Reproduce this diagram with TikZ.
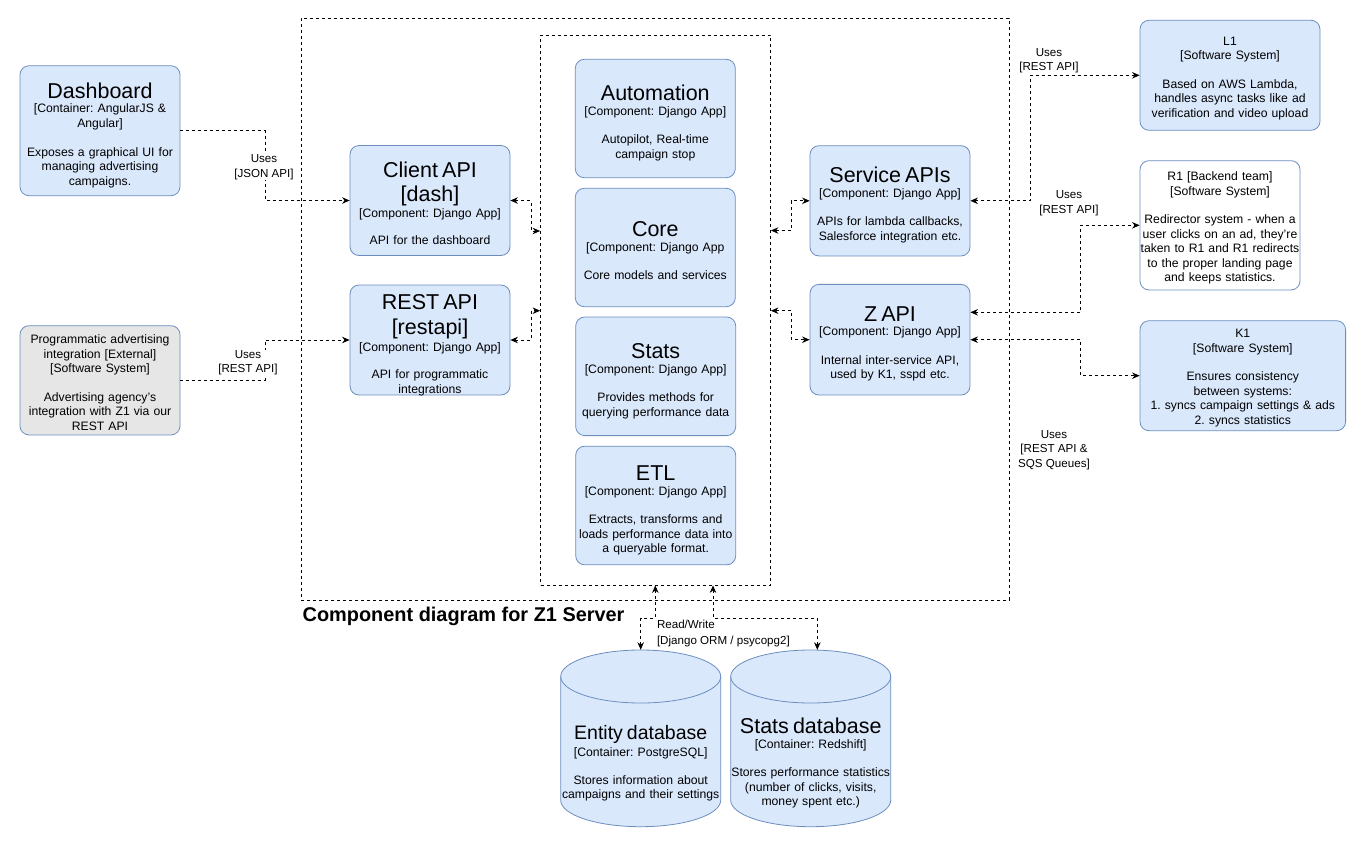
\documentclass[tikz,border=0pt]{standalone}
\usepackage{fontspec}
\setmainfont{Liberation Sans}
\usetikzlibrary{arrows.meta}
\frenchspacing
\definecolor{bfill}{HTML}{DAE8FC}
\definecolor{bdraw}{HTML}{6C8EBF}
\definecolor{gfill}{HTML}{E6E6E6}
\newcommand{\ttl}[1]{{\fontsize{21.5}{14.5}\selectfont\rule{0pt}{16pt}#1}}
\newcommand{\fst}{\rule{0pt}{10pt}}
\tikzset{
  >={Stealth[length=7.5pt,width=6.5pt]},
  box/.style={draw=bdraw, fill=bfill, line width=0.8pt, rounded corners=9pt, inner sep=0pt},
  txt/.style={anchor=north, inner sep=0pt, text width=240pt, align=center,
     font={\fontsize{12.2}{14.5}\selectfont}, execute at begin node={\lineskiplimit=-100pt\relax}},
  frame/.style={draw=black, line width=0.8pt, dash pattern=on 3pt off 3pt, inner sep=0pt},
  conn/.style={draw=black, line width=0.8pt, dash pattern=on 3pt off 3pt},
  uses/.style={conn,->},
  both/.style={conn,<->},
  lbl/.style={font={\fontsize{11.6}{14.5}\selectfont}, align=center, inner sep=0.5pt, fill=white},
  db/.style={draw=bdraw, fill=bfill, line width=0.8pt},
  ghost/.style={inner sep=0pt, minimum width=160pt, minimum height=176.7pt},
}
\begin{document}
\begin{tikzpicture}[x=1pt,y=-1pt]
\useasboundingbox (0,0) rectangle (1366,847);
\fill[white] (0,0) rectangle (1366,847);

% frames
\node[frame, minimum width=708pt, minimum height=582pt] (outer) at (655,309) {};
\node[frame, minimum width=230pt, minimum height=550pt] (inner) at (655.5,310) {};
\node[anchor=west, inner sep=0pt, font={\fontsize{19.9}{24}\selectfont\bfseries}] (title) at (302.5,616) {Component diagram for Z1 Server};

% boxes
\node[box, minimum width=160pt, minimum height=130pt] (dash) at (100,130.7) {};
\node[box, fill=gfill, minimum width=160pt, minimum height=109.3pt] (prog) at (100,380.3) {};
\node[box, minimum width=160pt, minimum height=110pt] (capi) at (430,200.5) {};
\node[box, minimum width=160pt, minimum height=110pt] (rapi) at (430,340) {};
\node[box, minimum width=160pt, minimum height=118.4pt] (auto) at (655.3,118.5) {};
\node[box, minimum width=160pt, minimum height=118.4pt] (core) at (655.3,247.5) {};
\node[box, minimum width=160pt, minimum height=118.6pt] (stats) at (655.7,376.3) {};
\node[box, minimum width=160pt, minimum height=118.6pt] (etl) at (655.7,505.5) {};
\node[box, minimum width=160pt, minimum height=110.3pt] (sapi) at (890,200.8) {};
\node[box, minimum width=160pt, minimum height=110.7pt] (zapi) at (890,339.7) {};
\node[box, minimum width=180pt, minimum height=110pt] (l1) at (1230,75.3) {};
\node[box, fill=white, minimum width=160pt, minimum height=129.3pt] (r1) at (1220,225.3) {};
\node[box, minimum width=205.6pt, minimum height=110pt] (k1) at (1242.8,375.7) {};

% databases
\node[ghost] (edb) at (640.7,738.3) {};
\node[ghost] (sdb) at (810.7,738.3) {};
\path[db] (560.7,676.5) -- (560.7,800.2) arc[start angle=180,end angle=360,x radius=80pt,y radius=26.5pt]
  -- (720.7,676.5) arc[start angle=0,end angle=180,x radius=80pt,y radius=26.5pt] -- cycle;
\draw[draw=bdraw, line width=0.8pt] (560.7,676.5) arc[start angle=180,end angle=360,x radius=80pt,y radius=26.5pt];
\path[db] (730.7,676.5) -- (730.7,800.2) arc[start angle=180,end angle=360,x radius=80pt,y radius=26.5pt]
  -- (890.7,676.5) arc[start angle=0,end angle=180,x radius=80pt,y radius=26.5pt] -- cycle;
\draw[draw=bdraw, line width=0.8pt] (730.7,676.5) arc[start angle=180,end angle=360,x radius=80pt,y radius=26.5pt];

% texts
\node[txt] (dashT) at (100,81.8) {\ttl{Dashboard}\\{}[Container: AngularJS \&\\Angular]\\[14.5pt]Exposes a graphical UI for\\managing advertising\\campaigns.};
\node[txt] (progT) at (100,333.4) {\fst Programmatic advertising\\integration [External]\\{}[Software System]\\[14pt]Advertising agency's\\integration with Z1 via our\\REST API};
\node[txt] (capiT) at (430,161) {\ttl{Client API}\\[9.5pt]\ttl{[dash]}\\[2pt]{}[Component: Django App]\\[12.5pt]API for the dashboard};
\node[txt] (rapiT) at (430,293.4) {\ttl{REST API}\\[10.5pt]\ttl{[restapi]}\\[2.2pt]{}[Component: Django App]\\[12.8pt]API for programmatic\\integrations};
\node[txt] (autoT) at (655.3,84.4) {\ttl{Automation}\\{}[Component: Django App]\\[14pt]Autopilot, Real-time\\campaign stop};
\node[txt] (coreT) at (655.3,220.7) {\ttl{Core}\\{}[Component: Django App\\[14pt]Core models and services};
\node[txt] (statsT) at (655.7,342.7) {\ttl{Stats}\\{}[Component: Django App]\\[14pt]Provides methods for\\querying performance data};
\node[txt] (etlT) at (655.7,464.7) {\ttl{ETL}\\{}[Component: Django App]\\[14pt]Extracts, transforms and\\loads performance data into\\a queryable format.};
\node[txt] (sapiT) at (890,166.7) {\ttl{Service APIs}\\{}[Component: Django App]\\[14pt]APIs for lambda callbacks,\\Salesforce integration etc.};
\node[txt] (zapiT) at (890,305) {\ttl{Z API}\\{}[Component: Django App]\\[14pt]Internal inter-service API,\\used by K1, sspd etc.};
\node[txt] (l1T) at (1230,35.1) {\fst L1\\{}[Software System]\\[14pt]Based on AWS Lambda,\\handles async tasks like ad\\verification and video upload};
\node[txt] (r1T) at (1220,170.7) {\fst R1 [Backend team]\\{}[Software System]\\[14pt]Redirector system - when a\\user clicks on an ad, they're\\taken to R1 and R1 redirects\\to the proper landing page\\and keeps statistics.};
\node[txt] (k1T) at (1242.8,327.7) {\fst K1\\{}[Software System]\\[14pt]Ensures consistency\\between systems:\\1. syncs campaign settings \& ads\\2. syncs statistics};
\node[txt] (edbT) at (640.7,723.3) {{\fontsize{19.5}{14.5}\selectfont\rule{0pt}{16pt}Entity database}\\[2pt]{}[Container: PostgreSQL]\\[13.5pt]Stores information about\\campaigns and their settings};
\node[txt] (sdbT) at (810.7,717.4) {\ttl{Stats database}\\{}[Container: Redshift]\\[14pt]Stores performance statistics\\(number of clicks, visits,\\money spent etc.)};

% connectors
\draw[uses] (dash.east) -- ++(85,0) |- (capi.west);
\draw[uses] (prog.east) -- ++(85,0) |- (rapi.west);
\draw[both] (capi.east) -- ++(20.5,0) |- (inner.west |- 0,231);
\draw[both] (rapi.east) -- ++(20.5,0) |- (inner.west |- 0,310.7);
\draw[both] (inner.east |- 0,230.5) -- ++(20,0) |- (sapi.west);
\draw[both] (inner.east |- 0,310.7) -- ++(20,0) |- (zapi.west);
\draw[both] (sapi.east) -- ++(60,0) |- (l1.west);
\draw[both] (zapi.east |- 0,312.3) -- ++(110,0) |- (r1.west);
\draw[both] (zapi.east) -- ++(110,0) |- (k1.west);
\draw[both] (inner.south -| 655.3,0) -- (655.3,618.3) -| (edb.north);
\draw[both] (inner.south -| 713,0) -- (713,618.3) -| (sdb.north -| 817.3,0);

% labels
\node[lbl] (ljson) at (264,167) {Uses\\{}[JSON API]};
\node[lbl] (lrest) at (248,362.5) {Uses\\{}[REST API]};
\node[lbl] (ll1) at (1049,60.5) {Uses\\{}[REST API]};
\node[lbl] (lr1) at (1069,203) {Uses\\{}[REST API]};
\node[lbl] (lsqs) at (1054,450) {Uses\\{}[REST API \&\\SQS Queues]};
\node[lbl, fill=none, align=left, anchor=north west] (lrw) at (656.3,619) {Read/Write\\[2.2pt]{}[Django ORM / psycopg2]};
\end{tikzpicture}
\end{document}
